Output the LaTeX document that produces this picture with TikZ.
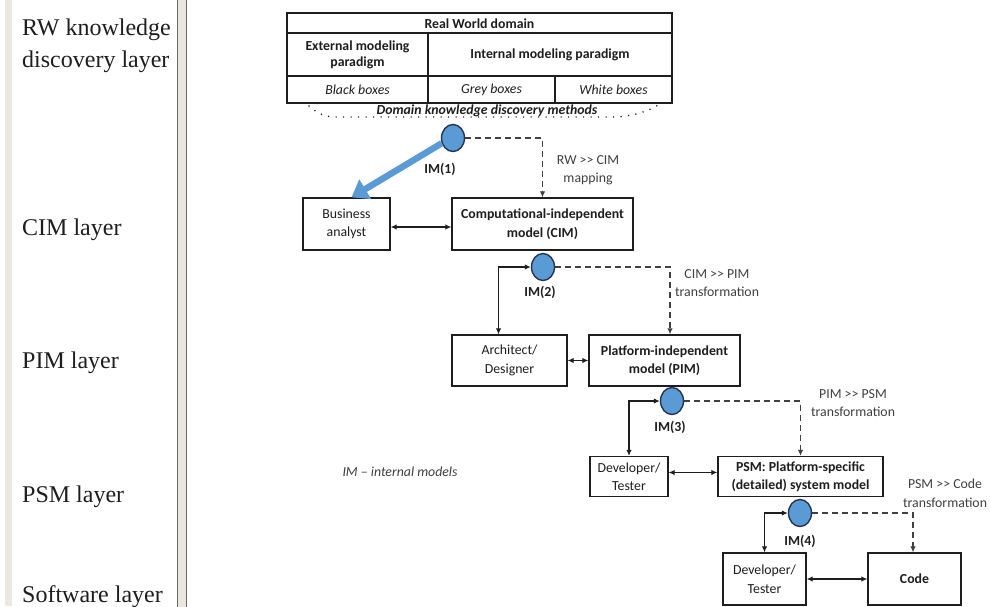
\documentclass[tikz,border=0pt]{standalone}
\usepackage{fontspec}
\setmainfont{Carlito}
\newfontfamily\layerfont{Liberation Serif}
\usetikzlibrary{arrows.meta,shapes.geometric}

\definecolor{imblue}{RGB}{91,155,213}
\definecolor{imedge}{RGB}{38,52,78}
\definecolor{ink}{RGB}{30,30,30}
\definecolor{barfill}{RGB}{234,230,226}
\definecolor{barline}{RGB}{105,105,105}
\definecolor{stripe}{RGB}{237,231,226}

\newcommand\dfont{\fontsize{13.8pt}{18.5pt}\selectfont}
\newcommand\mapto{>\kern0pt>}

\tikzset{
  box/.style={draw=ink, line width=1.25pt, fill=white, text=ink, align=center,
              inner sep=0pt, font=\dfont},
  imnode/.style={ellipse, draw=imedge, line width=1.4pt, fill=imblue,
              minimum width=23pt, minimum height=27pt, inner sep=0pt},
  imlab/.style={font=\dfont\bfseries, text=ink},
  note/.style={font=\dfont, text=ink!85, align=center},
  cell/.style={font=\dfont, text=ink, align=center, inner sep=0pt},
  dashconn/.style={draw=ink!85, line width=1.2pt, dash pattern=on 6pt off 4pt,
              -{Latex[length=6pt,width=5.5pt]}},
  bothconn/.style={draw=ink, line width=1.3pt,
              {Latex[length=6pt,width=5.5pt]}-{Latex[length=6pt,width=5.5pt]}},
  bigarrow/.style={draw=imblue, line width=6.5pt,
              -{Triangle[length=16pt,width=22pt]}},
  layer/.style={font=\layerfont\fontsize{24pt}{28pt}\selectfont, text=ink,
              anchor=base west, inner sep=0pt},
  dots/.style={draw=ink, line width=1.7pt, line cap=round,
              dash pattern=on 0pt off 7.5pt}
}

\begin{document}
\begin{tikzpicture}[x=1pt,y=-1pt]
\useasboundingbox (0,0) rectangle (990,606);
\fill[white] (0,0) rectangle (990,606);

% side rails
\fill[stripe] (5,0) rectangle (12,606);
\filldraw[fill=barfill, draw=barline, line width=1.2pt] (177.5,-2) rectangle (186.5,608);

% layer captions
\node[layer] (lrw1) at (22,35) {RW knowledge};
\node[layer] (lrw2) at (22,67) {discovery layer};
\node[layer] (lcim) at (22,235) {CIM layer};
\node[layer] (lpim) at (22,368) {PIM layer};
\node[layer] (lpsm) at (22,502) {PSM layer};
\node[layer] (lsw)  at (22,602) {Software layer};

% real world domain table
\draw[ink, line width=1.2pt] (287,13) rectangle (672,103);
\draw[ink, line width=1.2pt] (287,33) -- (672,33);
\draw[ink, line width=1.2pt] (287,76) -- (672,76);
\draw[ink, line width=1.2pt] (428,33) -- (428,103);
\draw[ink, line width=1.2pt] (555,76) -- (555,103);
\node[cell, font=\dfont\bfseries] (rwd) at (479.5,24) {Real World domain};
\node[cell, font=\fontsize{13.8pt}{16pt}\selectfont\bfseries] (ext) at (357.5,54.5) {External modeling\\paradigm};
\node[cell, font=\dfont\bfseries] (int) at (550,55) {Internal modeling paradigm};
\node[cell, font=\dfont\itshape] (blk) at (357.5,90) {Black boxes};
\node[cell, font=\dfont\itshape] (gry) at (491.5,90) {Grey boxes};
\node[cell, font=\dfont\itshape] (wht) at (613.5,90) {White boxes};

% discovery methods
\draw[dots] (309,106) .. controls (318,114) and (326,117) .. (336,117)
            -- (612,117) .. controls (628,117) and (645,113) .. (658,105);
\node[cell, font=\dfont\bfseries\itshape] (dkd) at (487,111) {Domain knowledge discovery methods};

% models and roles
\node[box, minimum width=87pt,  minimum height=52pt] (ba)   at (346.5,224) {Business\\analyst};
\node[box, minimum width=181pt, minimum height=52pt, font=\dfont\bfseries] (cim) at (542.5,224) {Computational-independent\\model (CIM)};
\node[box, minimum width=115pt, minimum height=51pt] (arch) at (509.5,360.5) {Architect/\\Designer};
\node[box, minimum width=151pt, minimum height=51pt, font=\dfont\bfseries] (pim) at (664.5,360.5) {Platform-independent\\model (PIM)};
\node[box, minimum width=78pt,  minimum height=40pt] (dev1) at (629,476.5) {Developer/\\Tester};
\node[box, minimum width=165pt, minimum height=40pt, font=\dfont\bfseries] (psm) at (800.5,476.5) {PSM: Platform-specific\\(detailed) system model};
\node[box, minimum width=83pt,  minimum height=52pt] (dev2) at (764.5,579) {Developer/\\Tester};
\node[box, minimum width=93pt,  minimum height=52pt, font=\dfont\bfseries] (code) at (914.5,579) {Code};

% internal models
\node[imnode] (im1) at (453,138) {};
\node[imnode] (im2) at (543,267) {};
\node[imnode] (im3) at (672,401) {};
\node[imnode] (im4) at (800,513) {};
\node[imlab] (im1l) at (440,169) {IM(1)};
\node[imlab] (im2l) at (540,292) {IM(2)};
\node[imlab] (im3l) at (670,427) {IM(3)};
\node[imlab] (im4l) at (800,541) {IM(4)};

% knowledge hand-over to the analyst
\draw[bigarrow] (im1.205) -- ([xshift=5pt]ba.north);

% mappings / transformations
\draw[dashconn] (im1.east) -| (cim.north);
\draw[dashconn] (im2.east) -| ([xshift=5.5pt]pim.north);
\draw[dashconn] (im3.east) -| (psm.north);
\draw[dashconn] (im4.east) -| ([xshift=-1.5pt]code.north);

\node[note] (n1) at (588,170) {RW \mapto{} CIM\\mapping};
\node[note] (n2) at (717,283) {CIM \mapto{} PIM\\transformation};
\node[note] (n3) at (853,403) {PIM \mapto{} PSM\\transformation};
\node[note] (n4) at (945,493) {PSM \mapto{} Code\\transformation};

% role links
\draw[bothconn] (im2.west) -| ([xshift=-11pt]arch.north);
\draw[bothconn] (im3.west) -| (dev1.north);
\draw[bothconn] (im4.west) -| (dev2.north);
\draw[bothconn] ([yshift=-3pt]ba.east) -- ([yshift=-3pt]cim.west);
\draw[bothconn] (arch.east) -- (pim.west);
\draw[bothconn] ([yshift=4pt]dev1.east) -- ([yshift=4pt]psm.west);
\draw[bothconn] (dev2.east) -- (code.west);

\node[note, font=\dfont\itshape] (leg) at (400,472) {IM -- internal models};
\end{tikzpicture}
\end{document}
